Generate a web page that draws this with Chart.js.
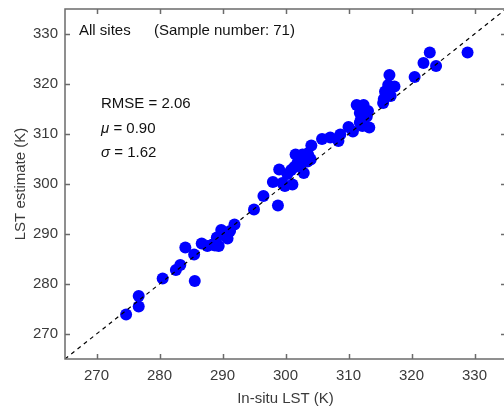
<!DOCTYPE html>
<html>
<head>
<meta charset="utf-8">
<script src="https://cdn.jsdelivr.net/npm/chart.js@4"></script>
<style>
  html, body { margin: 0; padding: 0; background: #fff; overflow: hidden; }
  #wrap { width: 512px; height: 408px; }
</style>
</head>
<body>
<div id="wrap"><canvas id="lstChart"></canvas></div>
<script>
// In-situ LST (K) vs LST estimate (K)
const insitu = [
  274.7, 276.7, 276.7, 280.5, 282.6, 283.3, 284.1, 285.5, 285.6, 286.7,
  287.6, 288.4, 288.8, 289.1, 289.4, 289.8, 290.0, 290.4, 290.8, 291.2,
  291.9, 295.0, 296.5, 298.8, 298.0, 299.0, 299.5, 299.9, 300.3, 300.9,
  301.1, 301.4, 301.6, 301.9, 302.3, 302.7, 302.9, 303.5, 303.5, 303.7,
  304.0, 304.1, 305.8, 307.1, 308.4, 308.7, 310.0, 310.7, 311.3, 311.8,
  311.8, 312.0, 312.2, 312.4, 312.6, 312.9, 313.1, 313.3, 315.5, 315.6,
  315.8, 316.0, 316.3, 316.5, 316.7, 317.3, 320.5, 321.9, 322.9, 323.9,
  328.9
];
const estimate = [
  273.9, 277.6, 275.5, 281.1, 282.8, 283.8, 287.3, 285.9, 280.6, 288.1,
  287.6, 287.9, 287.7, 289.3, 287.6, 290.8, 290.0, 290.3, 289.1, 290.6,
  291.9, 294.9, 297.6, 295.7, 300.4, 302.9, 300.2, 299.6, 302.0, 302.8,
  299.9, 303.4, 305.9, 304.2, 303.8, 305.9, 302.2, 304.5, 306.1, 305.5,
  304.9, 307.7, 309.0, 309.3, 308.6, 309.9, 311.4, 310.5, 315.8, 312.3,
  314.2, 313.0, 311.6, 315.8, 314.2, 313.5, 314.6, 311.3, 316.2, 317.0,
  318.5, 317.5, 319.8, 321.8, 317.6, 319.5, 321.4, 324.2, 326.3, 323.6,
  326.3
];
const axisMin = 265;
const axisMax = 335;
const tickValues = [270, 280, 290, 300, 310, 320, 330];
const statLines = [
  { sym: 'RMSE', val: ' = 2.06', italic: false },
  { sym: '\u03bc', val: ' = 0.90', italic: true },
  { sym: '\u03c3', val: ' = 1.62', italic: true }
];

const points = insitu.map((x, i) => ({ x: x, y: estimate[i] }));

const fontFamily = '"Liberation Sans", Arial, Helvetica, sans-serif';
const axisColor = '#6b6b6b';

// box around plot, inward ticks, and the text labels
const framePlugin = {
  id: 'frame',
  afterDraw(chart) {
    const c = chart.ctx;
    const a = chart.chartArea;
    const xs = chart.scales.x;
    const ys = chart.scales.y;
    c.save();
    c.strokeStyle = axisColor;
    c.lineWidth = 1.5;
    c.strokeRect(a.left, a.top, a.right - a.left, a.bottom - a.top);
    c.beginPath();
    tickValues.forEach(v => {
      const px = Math.round(xs.getPixelForValue(v)) + 0.5;
      c.moveTo(px, a.bottom); c.lineTo(px, a.bottom - 5);
      c.moveTo(px, a.top); c.lineTo(px, a.top + 5);
      const py = Math.round(ys.getPixelForValue(v)) + 0.5;
      c.moveTo(a.left, py); c.lineTo(a.left + 5, py);
      c.moveTo(a.right, py); c.lineTo(a.right - 5, py);
    });
    c.stroke();

    c.fillStyle = '#111';
    c.textBaseline = 'middle';
    c.textAlign = 'left';
    c.font = '15px ' + fontFamily;
    c.fillText('All sites', a.left + 14, a.top + 22);
    c.fillText('(Sample number: 71)', a.left + 89, a.top + 22);

    statLines.forEach((s, i) => {
      const y = a.top + 95 + i * 24.5;
      let x = a.left + 36;
      c.font = (s.italic ? 'italic ' : '') + '15px ' + fontFamily;
      c.fillText(s.sym, x, y);
      x += c.measureText(s.sym).width;
      c.font = '15px ' + fontFamily;
      c.fillText(s.val, x, y);
    });
    c.restore();
  }
};

const ctx = document.getElementById('lstChart');
const lstChart = new Chart(ctx, {
  type: 'scatter',
  data: {
    datasets: [
      {
        label: '1:1',
        type: 'line',
        data: [{ x: axisMin, y: axisMin }, { x: axisMax, y: axisMax }],
        borderColor: '#000',
        borderWidth: 1.2,
        borderDash: [4, 4],
        pointRadius: 0,
        fill: false
      },
      {
        label: 'Sites',
        data: points,
        backgroundColor: '#0000ff',
        borderWidth: 0,
        pointRadius: 6,
        pointHoverRadius: 6
      }
    ]
  },
  options: {
    responsive: true,
    maintainAspectRatio: false,
    animation: false,
    layout: { padding: { top: 9, right: 1, left: 0, bottom: 0 } },
    plugins: {
      legend: { display: false },
      tooltip: { enabled: false }
    },
    scales: {
      x: {
        type: 'linear',
        min: axisMin,
        max: axisMax,
        afterBuildTicks: s => { s.ticks = tickValues.map(v => ({ value: v })); },
        afterFit: s => { s.height = 49; s.paddingLeft = 0; s.paddingRight = 0; },
        grid: { display: false, drawTicks: false },
        border: { display: false },
        ticks: {
          padding: 8,
          color: '#3a3a3a',
          font: { family: fontFamily, size: 15 }
        },
        title: {
          display: true,
          text: 'In-situ LST (K)',
          color: '#3a3a3a',
          padding: { top: 1, bottom: 0 },
          font: { family: fontFamily, size: 15 }
        }
      },
      y: {
        type: 'linear',
        min: axisMin,
        max: axisMax,
        afterBuildTicks: s => { s.ticks = tickValues.map(v => ({ value: v })); },
        afterFit: s => { s.width = 65; s.paddingTop = 0; s.paddingBottom = 0; },
        grid: { display: false, drawTicks: false },
        border: { display: false },
        ticks: {
          padding: 7,
          color: '#3a3a3a',
          font: { family: fontFamily, size: 15 }
        },
        title: {
          display: true,
          text: 'LST estimate (K)',
          color: '#3a3a3a',
          padding: { top: 12, bottom: 4 },
          font: { family: fontFamily, size: 15 }
        }
      }
    }
  },
  plugins: [framePlugin]
});
</script>
</body>
</html>
